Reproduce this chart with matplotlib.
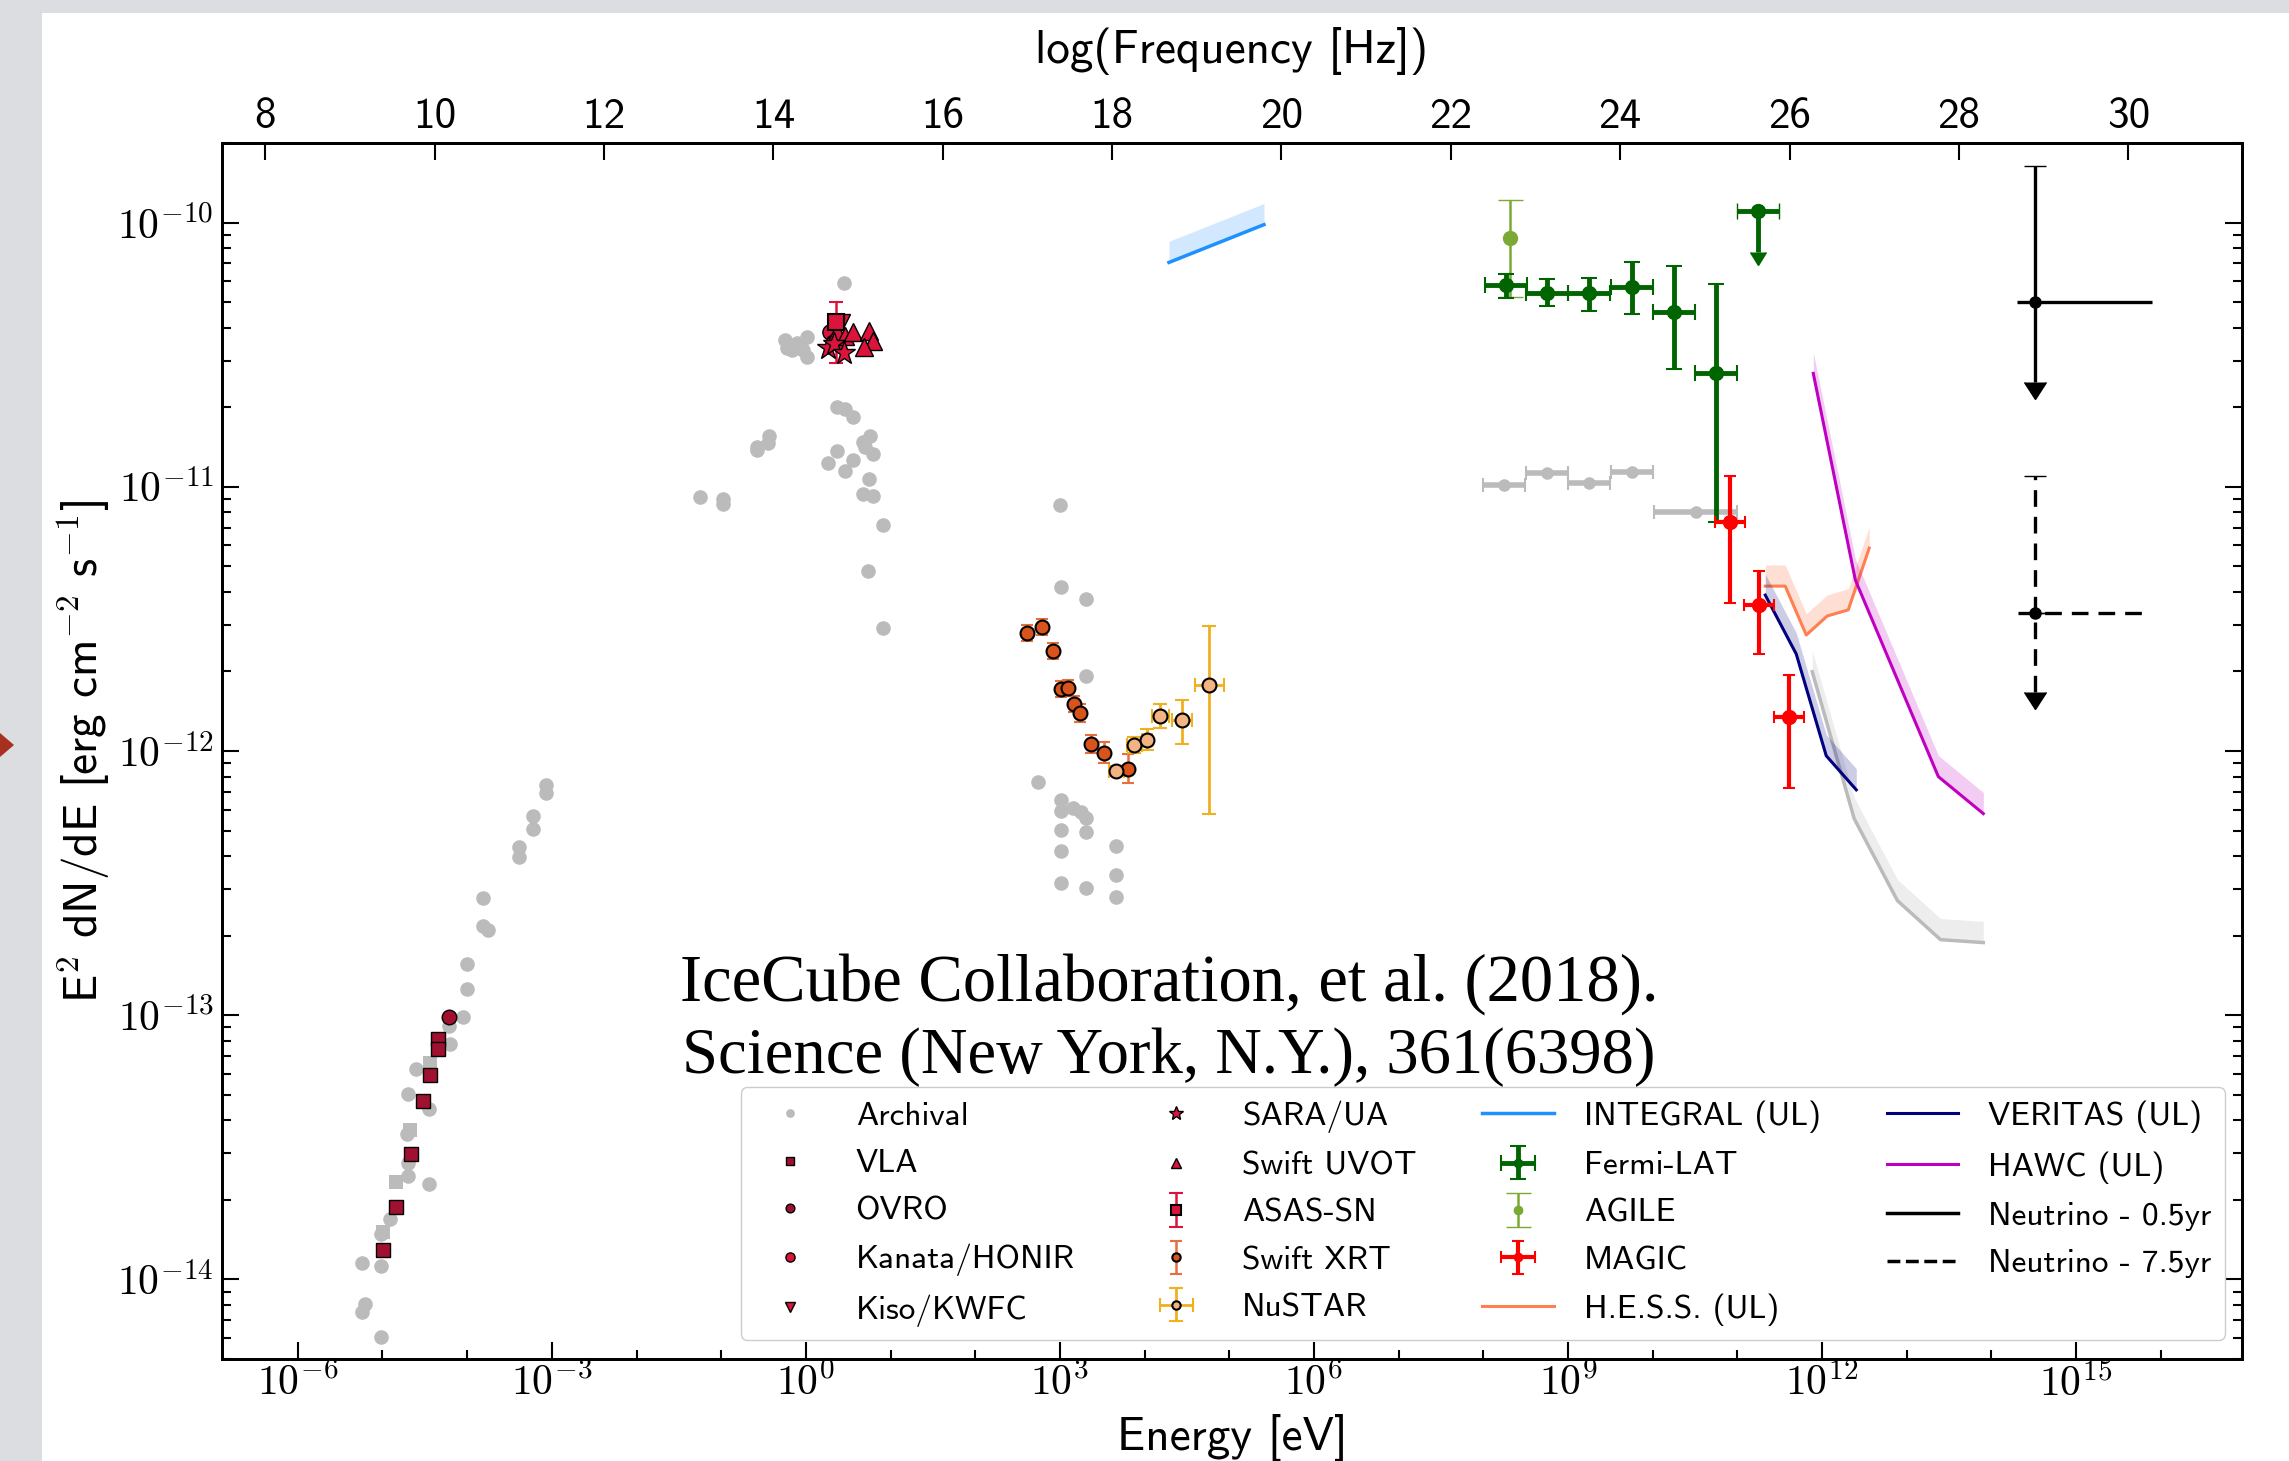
import matplotlib
matplotlib.use('Agg')
import matplotlib.pyplot as plt
import numpy as np
from matplotlib.lines import Line2D
from matplotlib.patches import Rectangle, Polygon
from matplotlib.ticker import FixedLocator, FuncFormatter, MultipleLocator, LogLocator, NullFormatter

plt.rcParams['font.family'] = ['cmss10', 'DejaVu Sans']
plt.rcParams['mathtext.fontset'] = 'cm'
plt.rcParams['axes.unicode_minus'] = False

# ---- data (log10 E [eV], log10 E^2 dN/dE [erg cm^-2 s^-1]) ----
arch_radio_logE = [-3.069, -3.069, -3.222, -3.222, -3.388, -3.388, -3.813, -3.813, -3.754, -4.002,
                   -4.002, -4.049, -4.215, -4.203, -4.604, -4.698, -4.450, -4.710, -4.698, -4.698,
                   -4.450, -4.911, -5.017, -5.242, -5.017, -5.207, -5.242, -5.017]
arch_radio_logF = [-12.128, -12.158, -12.245, -12.294, -12.362, -12.400, -12.555, -12.661, -12.676, -12.808,
                   -12.902, -13.008, -13.042, -13.107, -13.205, -13.299, -13.356, -13.450, -13.560, -13.609,
                   -13.640, -13.772, -13.828, -13.938, -13.949, -14.093, -14.123, -14.218]
arch_sq_logE = [-4.438, -4.674, -4.839, -4.993]
arch_sq_logF = [-13.182, -13.435, -13.632, -13.821]
arch_opt_logE = [0.450, -0.247, -0.222, -0.107, 0.013, 0.013, -0.164, -0.035, 0.366, 0.460, 0.556,
                 -0.435, -0.447, -0.577, -0.577, 0.366, 0.760, 0.677, 0.700, 0.795, 0.264, 0.556,
                 0.460, 0.748, 0.677, 0.795, -1.250, -0.978, -0.978, 0.913, 0.736, 0.913]
arch_opt_logF = [-10.227, -10.446, -10.476, -10.454, -10.435, -10.510, -10.484, -10.484, -10.699, -10.707,
                 -10.737, -10.809, -10.835, -10.850, -10.862, -10.865, -10.809, -10.831, -10.850, -10.877,
                 -10.911, -10.899, -10.941, -10.971, -11.028, -11.036, -11.039, -11.047, -11.066, -11.145,
                 -11.319, -11.534]
arch_x_logE = [3.000, 3.013, 3.311, 3.311, 2.742, 3.013, 3.013, 3.155, 3.249, 3.311, 3.013, 3.311,
               3.665, 3.013, 3.665, 3.013, 3.311, 3.665]
arch_x_logF = [-11.070, -11.379, -11.425, -11.716, -12.116, -12.184, -12.226, -12.215, -12.230, -12.252,
               -12.298, -12.305, -12.358, -12.377, -12.468, -12.498, -12.517, -12.551]
arch_gam_logE = [8.245, 8.752, 9.250, 9.758, 10.510]
arch_gam_logF = [-10.994, -10.949, -10.986, -10.945, -11.096]
arch_gam_dx = [0.245, 0.245, 0.245, 0.245, 0.490]
arch_tev_logE = [11.885, 12.38, 12.89, 13.40, 13.905]
arch_tev_logF = [-11.70, -12.256, -12.566, -12.714, -12.725]

vla_logE = [-4.344, -4.344, -4.438, -4.521, -4.663, -4.839, -4.993]
vla_logF = [-13.091, -13.129, -13.227, -13.326, -13.526, -13.726, -13.889]
ovro_logE = [-4.215]
ovro_logF = [-13.008]
kanata_logE = [0.29, 0.34]
kanata_logF = [-10.416, -10.45]
kiso_logE = [0.426]
kiso_logF = [-10.378]
sara_logE = [0.264, 0.33, 0.45]
sara_logF = [-10.476, -10.46, -10.495]
uvot_logE = [0.346, 0.37, 0.46, 0.556, 0.745, 0.79, 0.69]
uvot_logF = [-10.446, -10.416, -10.431, -10.416, -10.412, -10.45, -10.472]
asas_logE = [0.357]
asas_logF = [-10.378]
asas_dlo, asas_dhi = [0.155], [0.076]

xrt_logE = [2.611, 2.788, 2.918, 3.013, 3.096, 3.167, 3.238, 3.368, 3.521, 3.804]
xrt_logF = [-11.553, -11.531, -11.621, -11.765, -11.761, -11.822, -11.856, -11.973, -12.007, -12.067]
xrt_dF = [0.03, 0.03, 0.03, 0.03, 0.03, 0.03, 0.035, 0.035, 0.04, 0.055]
nustar_logE = [3.665, 3.877, 4.031, 4.184, 4.444, 4.763]
nustar_logF = [-12.075, -11.977, -11.958, -11.867, -11.882, -11.750]
nustar_dx = [0.09, 0.09, 0.06, 0.10, 0.12, 0.17]
nustar_dlo = [0.02, 0.03, 0.04, 0.045, 0.09, 0.487]
nustar_dhi = [0.02, 0.03, 0.04, 0.045, 0.076, 0.223]

integral_logE = [4.288, 5.410]
integral_logF = [-10.151, -10.008]

fermi_logE = [8.268, 8.752, 9.250, 9.758, 10.254, 10.750]
fermi_logF = [-10.238, -10.265, -10.268, -10.245, -10.340, -10.571]
fermi_dlo = [0.049, 0.049, 0.065, 0.103, 0.216, 0.563]
fermi_dhi = [0.045, 0.050, 0.060, 0.094, 0.174, 0.340]
fermi_dx = 0.245
fermi_ul_logE = [11.246]
fermi_ul_logF = [-9.955]
fermi_ul_dn = 0.156
agile_logE = [8.315]
agile_logF = [-10.057]
agile_dlo, agile_dhi = [0.223], [0.144]
magic_logE = [10.913, 11.257, 11.612]
magic_logF = [-11.134, -11.447, -11.871]
magic_dlo = [0.306, 0.186, 0.268]
magic_dhi = [0.174, 0.128, 0.159]
magic_dx = 0.177

hess_logE = [11.330, 11.566, 11.814, 12.062, 12.310, 12.558]
hess_logF = [-11.376, -11.376, -11.561, -11.489, -11.466, -11.232]
veritas_logE = [11.330, 11.696, 12.050, 12.405]
veritas_logF = [-11.41, -11.633, -12.018, -12.147]
hawc_logE = [11.897, 12.394, 13.374, 13.905]
hawc_logF = [-10.571, -11.353, -12.097, -12.237]
band_dex = 0.08

nu05_logE, nu05_logF = [14.515], [-10.302]
nu05_xlo, nu05_xhi, nu05_up, nu05_dn = 0.215, 1.385, 0.517, 0.30
nu75_logE, nu75_logF = [14.515], [-11.478]
nu75_xlo, nu75_xhi, nu75_up, nu75_dn = 0.20, 1.32, 0.518, 0.30

freq_offset = 14.383  # log10(1/h) with h in eV s
xlim_log = (-6.895, 16.96)
ylim = (5e-15, 2e-10)


def lin(a):
    return 10.0 ** np.asarray(a, dtype=float)


def asym(logv, dlo, dhi):
    v = lin(logv)
    return [v - v * 10.0 ** -np.asarray(dlo, dtype=float), v * 10.0 ** np.asarray(dhi, dtype=float) - v]


W, H = 2289, 1461
fig = plt.figure(figsize=(W / 100, H / 100), dpi=100, facecolor='#dcdde0')
fig.add_artist(Rectangle((42 / W, 0), 1 - 42 / W, 1 - 13 / H, transform=fig.transFigure,
                         facecolor='white', edgecolor='none', zorder=-10))
fig.add_artist(Polygon([[0, 1 - 733 / H], [14 / W, 1 - 745 / H], [0, 1 - 757 / H]], closed=True,
                       transform=fig.transFigure, facecolor='#a8301e', edgecolor='none', zorder=-5))

ax = fig.add_axes([222 / W, (H - 1359) / H, 2020 / W, 1216 / H])
ax.set_xscale('log')
ax.set_yscale('log')

grey = '#bbbbbb'
crimson = '#dc143c'
darkred = '#a01030'

# archival
h_arch, = ax.plot(lin(arch_radio_logE + arch_opt_logE + arch_x_logE),
                  lin(arch_radio_logF + arch_opt_logF + arch_x_logF),
                  'o', color=grey, ms=10.5, mew=0, zorder=1)
ax.plot(lin(arch_sq_logE), lin(arch_sq_logF), 's', color=grey, ms=10, mew=0, zorder=1)
ax.errorbar(lin(arch_gam_logE), lin(arch_gam_logF),
            xerr=asym(arch_gam_logE, arch_gam_dx, arch_gam_dx),
            fmt='o', color=grey, ms=8, lw=4, capsize=5, capthick=1.5, zorder=1)
ax.plot(lin(arch_tev_logE), lin(arch_tev_logF), color=grey, lw=2.5, zorder=1)
ax.fill_between(lin(arch_tev_logE), lin(arch_tev_logF), lin(np.array(arch_tev_logF) + band_dex),
                color=grey, alpha=0.25, lw=0, zorder=1)

# radio / optical
h_vla, = ax.plot(lin(vla_logE), lin(vla_logF), 's', color=darkred, mec='k', mew=1, ms=10.5, zorder=3)
h_ovro, = ax.plot(lin(ovro_logE), lin(ovro_logF), 'o', color=darkred, mec='k', mew=1, ms=10.5, zorder=3)
h_kiso, = ax.plot(lin(kiso_logE), lin(kiso_logF), 'v', color=crimson, mec='k', mew=1, ms=12, zorder=3)
h_kan, = ax.plot(lin(kanata_logE), lin(kanata_logF), 'o', color=crimson, mec='k', mew=1, ms=11, zorder=3)
h_asas = ax.errorbar(lin(asas_logE), lin(asas_logF), yerr=asym(asas_logF, asas_dlo, asas_dhi),
                     fmt='s', color=crimson, mec='k', mew=1.5, ms=11, lw=1.8, capsize=5, zorder=4)
h_uvot, = ax.plot(lin(uvot_logE), lin(uvot_logF), '^', color=crimson, mec='k', mew=1, ms=12.5, zorder=4)
h_sara, = ax.plot(lin(sara_logE), lin(sara_logF), '*', color=crimson, mec='k', mew=1, ms=17, zorder=4)

# X-ray
h_xrt = ax.errorbar(lin(xrt_logE), lin(xrt_logF), yerr=asym(xrt_logF, xrt_dF, xrt_dF),
                    fmt='o', color='#d9541a', ecolor='#e5703c', mec='k', mew=1.5, ms=10,
                    lw=1.8, capsize=4.5, zorder=3)
h_nus = ax.errorbar(lin(nustar_logE), lin(nustar_logF),
                    xerr=asym(nustar_logE, nustar_dx, nustar_dx),
                    yerr=asym(nustar_logF, nustar_dlo, nustar_dhi),
                    fmt='o', color='#f2b483', ecolor='#f0b020', mec='k', mew=1.5, ms=10,
                    lw=2, capsize=5, zorder=3)

# INTEGRAL
h_int, = ax.plot(lin(integral_logE), lin(integral_logF), color='#1e90ff', lw=2.5, zorder=2)
ax.fill_between(lin(integral_logE), lin(integral_logF), lin(np.array(integral_logF) + band_dex),
                color='#1e90ff', alpha=0.2, lw=0, zorder=2)

# gamma rays
h_agile = ax.errorbar(lin(agile_logE), lin(agile_logF), yerr=asym(agile_logF, agile_dlo, agile_dhi),
                      fmt='o', color='#7aaa35', ms=10, lw=1.8, capsize=9, zorder=3)
h_fermi = ax.errorbar(lin(fermi_logE), lin(fermi_logF),
                      xerr=asym(fermi_logE, [fermi_dx] * 6, [fermi_dx] * 6),
                      yerr=asym(fermi_logF, fermi_dlo, fermi_dhi),
                      fmt='o', color='#006400', ms=10, lw=3.5, capsize=6, capthick=1.5, zorder=4)
ax.errorbar(lin(fermi_ul_logE), lin(fermi_ul_logF),
            xerr=asym(fermi_ul_logE, [fermi_dx], [fermi_dx]),
            yerr=lin(fermi_ul_logF) * (1 - 10 ** -fermi_ul_dn), uplims=True,
            fmt='o', color='#006400', ms=10, lw=3.5, capsize=6, zorder=4)
h_magic = ax.errorbar(lin(magic_logE), lin(magic_logF),
                      xerr=asym(magic_logE, [magic_dx] * 3, [magic_dx] * 3),
                      yerr=asym(magic_logF, magic_dlo, magic_dhi),
                      fmt='o', color='red', ms=10, lw=3, capsize=4.5, capthick=1.5, zorder=4)

# TeV upper limits
h_hess, = ax.plot(lin(hess_logE), lin(hess_logF), color='#ff7f50', lw=2.2, zorder=2)
ax.fill_between(lin(hess_logE), lin(hess_logF), lin(np.array(hess_logF) + band_dex),
                color='#ff7f50', alpha=0.25, lw=0, zorder=2)
h_ver, = ax.plot(lin(veritas_logE), lin(veritas_logF), color='#000080', lw=2.2, zorder=2)
ax.fill_between(lin(veritas_logE), lin(veritas_logF), lin(np.array(veritas_logF) + band_dex),
                color='#000080', alpha=0.2, lw=0, zorder=2)
h_hawc, = ax.plot(lin(hawc_logE), lin(hawc_logF), color='#c000c0', lw=2.2, zorder=2)
ax.fill_between(lin(hawc_logE), lin(hawc_logF), lin(np.array(hawc_logF) + band_dex),
                color='#c000c0', alpha=0.2, lw=0, zorder=2)

# neutrinos
for nE, nF, xlo, xhi, up, dn, ls in [(nu05_logE, nu05_logF, nu05_xlo, nu05_xhi, nu05_up, nu05_dn, '-'),
                                      (nu75_logE, nu75_logF, nu75_xlo, nu75_xhi, nu75_up, nu75_dn, (0, (5, 3)))]:
    parts = [ax.errorbar(lin(nE), lin(nF), xerr=asym(nE, [xlo], [xhi]), fmt='o', color='k',
                         ms=8, lw=2.4, capsize=0, zorder=4),
             ax.errorbar(lin(nE), lin(nF), yerr=asym(nF, [0.0], [up]), fmt='none', color='k',
                         ecolor='k', lw=2.4, capsize=8, zorder=4),
             ax.errorbar(lin(nE), lin(nF), yerr=lin(nF) * (1 - 10 ** -dn), uplims=True, fmt='none',
                         color='k', ecolor='k', lw=2.4, capsize=8, zorder=4)]
    for p in parts:
        for cl in p[1]:
            cl.set_color('k')
            cl.set_markerfacecolor('k')
            cl.set_markeredgecolor('k')
        for bc in p[2]:
            bc.set_linestyle(ls)

# axes formatting
ax.set_xlim(10 ** xlim_log[0], 10 ** xlim_log[1])
ax.set_ylim(*ylim)
decade_fmt = FuncFormatter(lambda v, p: r'$10^{%d}$' % int(np.round(np.log10(v))))
ax.xaxis.set_major_locator(FixedLocator(10.0 ** np.arange(-6, 17, 3)))
ax.xaxis.set_minor_locator(FixedLocator(10.0 ** np.arange(-7, 18)))
ax.xaxis.set_major_formatter(decade_fmt)
ax.xaxis.set_minor_formatter(NullFormatter())
ax.yaxis.set_major_locator(FixedLocator(10.0 ** np.arange(-15, -9)))
ax.yaxis.set_minor_locator(LogLocator(base=10, subs=np.arange(2, 10), numticks=30))
ax.yaxis.set_major_formatter(decade_fmt)
ax.yaxis.set_minor_formatter(NullFormatter())
ax.tick_params(which='both', direction='in', width=1.5, labelsize=30)
ax.tick_params(which='major', length=12)
ax.tick_params(which='minor', length=6.5)
ax.tick_params(axis='y', which='both', left=True, right=True, pad=6)
ax.tick_params(axis='x', which='both', bottom=True, top=False, pad=3)
for s in ax.spines.values():
    s.set_linewidth(2)
ax.set_xlabel('Energy [eV]', fontsize=34, labelpad=7)
ax.set_ylabel(r'E$^{\mathsf{2}}$ dN/dE [erg cm$^{\mathsf{-2}}$ s$^{\mathsf{-1}}$]', fontsize=34, labelpad=4)

ax2 = ax.twiny()
ax2.set_xlim(xlim_log[0] + freq_offset, xlim_log[1] + freq_offset)
ax2.xaxis.set_major_locator(MultipleLocator(2))
ax2.xaxis.set_major_formatter(FuncFormatter(lambda v, p: '%d' % int(round(v))))
ax2.tick_params(axis='x', direction='in', length=12, width=1.5, labelsize=31, pad=5)
for s in ax2.spines.values():
    s.set_linewidth(2)
ax2.set_xlabel('log(Frequency [Hz])', fontsize=34, labelpad=25)

# citation overlay
ax.text(1169 / W, 1 - 984 / H, 'IceCube Collaboration, et al. (2018).', transform=fig.transFigure,
        ha='center', va='center', fontsize=48, family='Liberation Serif', zorder=4.5)
ax.text(1169 / W, 1 - 1057 / H, 'Science (New York, N.Y.), 361(6398)', transform=fig.transFigure,
        ha='center', va='center', fontsize=46.5, family='Liberation Serif', zorder=4.5)

nu05_h = Line2D([], [], color='k', lw=2.5)
nu75_h = Line2D([], [], color='k', lw=2.5, ls='--')
handles = [h_arch, h_vla, h_ovro, h_kan, h_kiso,
           h_sara, h_uvot, h_asas, h_xrt, h_nus,
           h_int, h_fermi, h_agile, h_magic, h_hess,
           h_ver, h_hawc, nu05_h, nu75_h]
labels = ['Archival', 'VLA', 'OVRO', 'Kanata/HONIR', 'Kiso/KWFC',
          'SARA/UA', 'Swift UVOT', 'ASAS-SN', 'Swift XRT', 'NuSTAR',
          'INTEGRAL (UL)', 'Fermi-LAT', 'AGILE', 'MAGIC', 'H.E.S.S. (UL)',
          'VERITAS (UL)', 'HAWC (UL)', 'Neutrino - 0.5yr', 'Neutrino - 7.5yr']
leg = ax.legend(handles, labels, ncol=4, loc='lower right', bbox_to_anchor=(0.9916, 0.0156),
                fontsize=24, markerscale=0.6, handlelength=2.15, handletextpad=0.9,
                columnspacing=1.97, labelspacing=0.54, borderpad=0.4, borderaxespad=0,
                framealpha=1, edgecolor='#cccccc', fancybox=True)
leg.set_zorder(5)

fig.savefig('out.png', dpi=100, facecolor=fig.get_facecolor())
